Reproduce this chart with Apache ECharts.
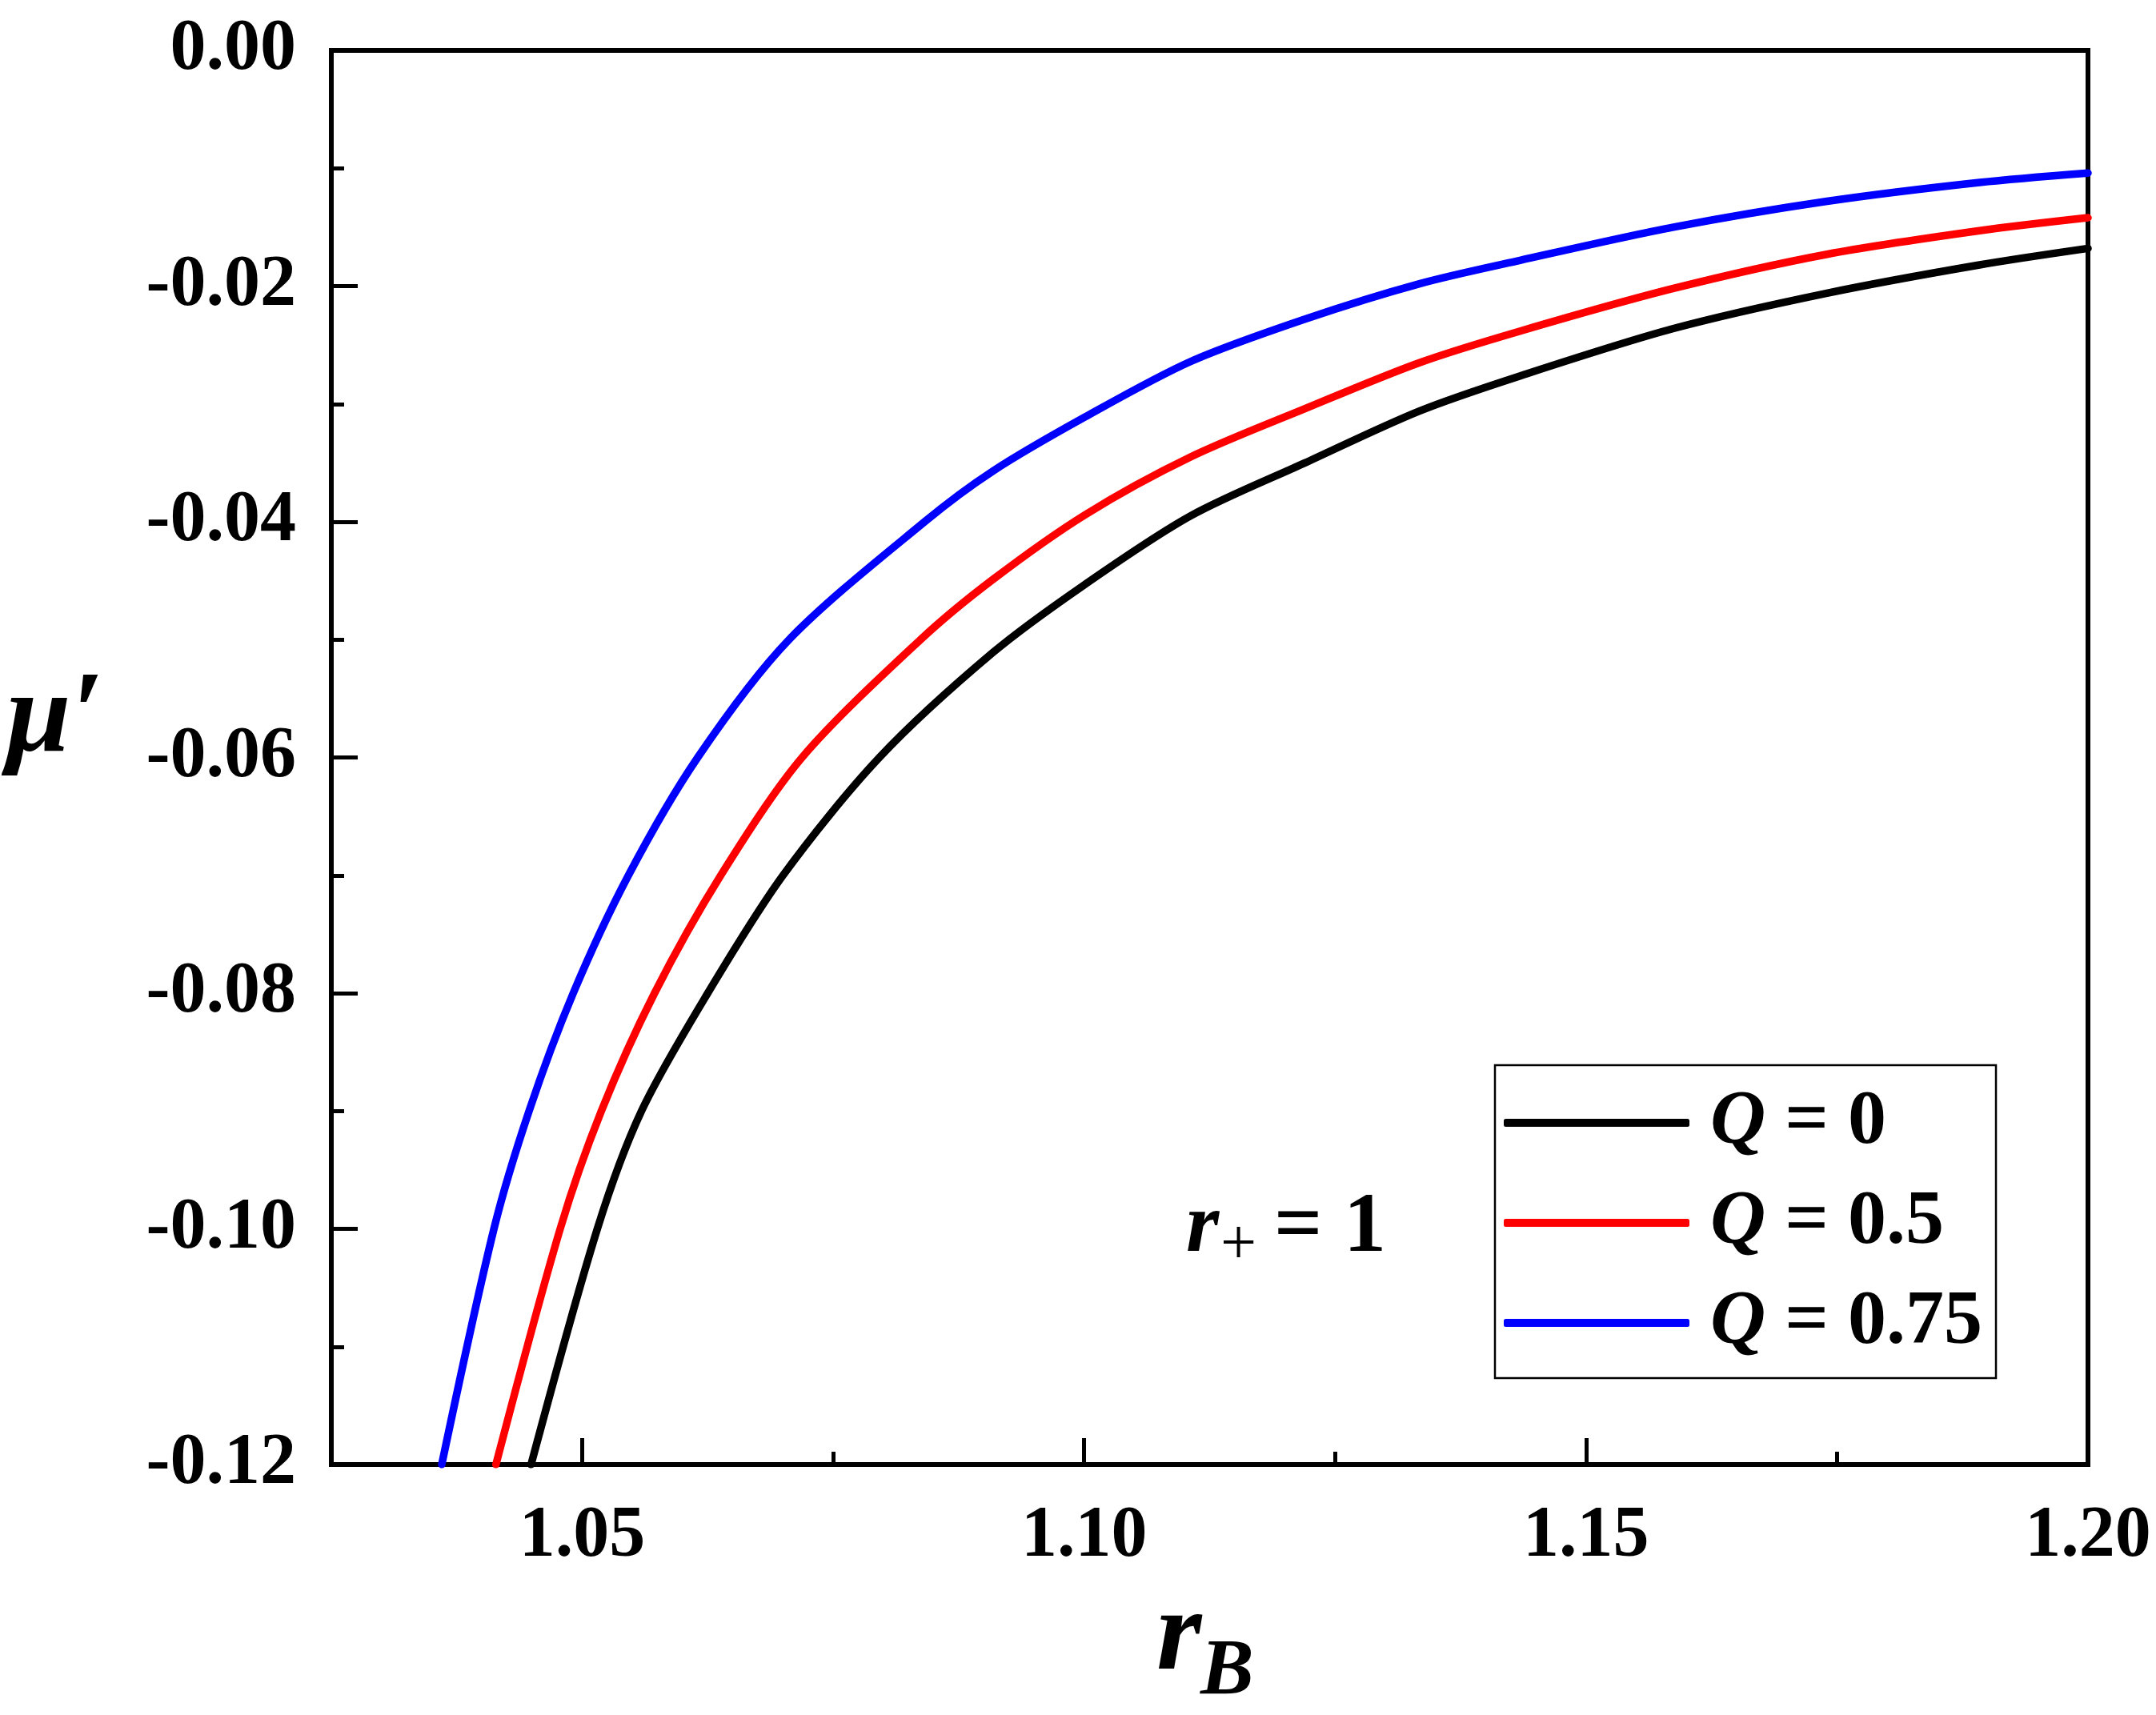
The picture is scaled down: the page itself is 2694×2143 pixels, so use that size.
<!DOCTYPE html>
<html>
<head>
<meta charset="utf-8">
<script src="https://cdn.jsdelivr.net/npm/echarts@6/dist/echarts.min.js"></script>
<style>
html,body{margin:0;padding:0;background:#fff;}
#chart{width:2694px;height:2143px;}
</style>
</head>
<body>
<div id="chart"></div>
<script>
// ---- data ----
const seriesNames = ['Q = 0', 'Q = 0.5', 'Q = 0.75'];
const legendValues = ['0', '0.5', '0.75'];
const seriesColors = ['#000000', '#ff0000', '#0000ff'];

const q0 = [
  [1.0449,-0.1200],[1.0515,-0.1000],[1.0559,-0.0900],[1.0625,-0.0800],[1.0700,-0.0700],
  [1.0796,-0.0600],[1.0909,-0.0511],[1.1001,-0.0453],[1.1106,-0.0395],
  [1.1220,-0.0350],[1.1334,-0.0306],[1.1435,-0.0276],[1.1587,-0.0236],
  [1.1740,-0.0206],[1.1892,-0.0182],[1.2000,-0.0168]
];
const q05 = [
  [1.0414,-0.1200],[1.0478,-0.1000],[1.0519,-0.0900],[1.0572,-0.0800],[1.0638,-0.0700],
  [1.0719,-0.0600],[1.0837,-0.0500],[1.0909,-0.0449],[1.1001,-0.0394],[1.1106,-0.0345],
  [1.1220,-0.0304],[1.1334,-0.0265],[1.1435,-0.0238],[1.1587,-0.0202],
  [1.1740,-0.0173],[1.1892,-0.0153],[1.2000,-0.0142]
];
const q075 = [
  [1.0360,-0.1200],[1.0412,-0.1000],[1.0447,-0.0900],[1.0491,-0.0800],[1.0546,-0.0700],
  [1.0615,-0.0600],[1.0706,-0.0500],[1.0841,-0.0400],[1.0909,-0.0357],[1.1001,-0.0311],
  [1.1106,-0.0264],[1.1220,-0.0228],[1.1334,-0.0198],[1.1435,-0.0178],
  [1.1587,-0.0150],[1.1740,-0.0128],[1.1892,-0.0112],[1.2000,-0.0104]
];
const seriesData = [q0, q05, q075];

const xMin = 1.025, xMax = 1.20;
const xMajorTicks = [1.05, 1.10, 1.15, 1.20];
const xMinorTicks = [1.075, 1.125, 1.175];
const yMin = -0.12, yMax = 0, yInterval = 0.02;

// ---- chart ----
const FONT = '"Liberation Serif", "Times New Roman", serif';
const chart = echarts.init(document.getElementById('chart'), null, {renderer: 'canvas'});

const axisLineStyle = {color: '#000', width: 6};
const gridBox = {left: 414, top: 63, right: 85, bottom: 313, containLabel: false, outerBoundsMode: 'none'};

const option = {
  animation: false,
  backgroundColor: '#ffffff',
  grid: [
    Object.assign({show: true, borderColor: '#000', borderWidth: 6, backgroundColor: 'transparent'}, gridBox),
    Object.assign({show: false}, gridBox)
  ],
  xAxis: [
    {
      type: 'value', gridIndex: 0, min: xMin, max: xMax, position: 'bottom',
      axisLine: {show: true, onZero: false, lineStyle: axisLineStyle},
      axisTick: {show: true, inside: true, length: 33, lineStyle: {color: '#000', width: 5}, customValues: xMajorTicks},
      axisLabel: {
        show: true, margin: 46, customValues: xMajorTicks,
        color: '#000', fontFamily: FONT, fontWeight: 'bold', fontSize: 90,
        formatter: v => Number(v).toFixed(2)
      },
      splitLine: {show: false}
    },
    {
      type: 'value', gridIndex: 1, min: xMin, max: xMax, position: 'bottom',
      axisLine: {show: false, onZero: false},
      axisTick: {show: true, inside: true, length: 16, lineStyle: {color: '#000', width: 5}, customValues: xMinorTicks},
      axisLabel: {show: false},
      splitLine: {show: false}
    }
  ],
  yAxis: [
    {
      type: 'value', gridIndex: 0, min: yMin, max: yMax, interval: yInterval,
      axisLine: {show: true, onZero: false, lineStyle: axisLineStyle},
      axisTick: {show: true, inside: true, length: 33, lineStyle: {color: '#000', width: 5}},
      minorTick: {show: true, splitNumber: 2, length: 16, lineStyle: {color: '#000', width: 5}},
      axisLabel: {
        show: true, margin: 44,
        color: '#000', fontFamily: FONT, fontWeight: 'bold', fontSize: 90,
        formatter: v => Number(v).toFixed(2)
      },
      splitLine: {show: false},
      minorSplitLine: {show: false}
    },
    {
      type: 'value', gridIndex: 1, min: yMin, max: yMax, interval: yInterval,
      axisLine: {show: false}, axisTick: {show: false}, axisLabel: {show: false},
      splitLine: {show: false}
    }
  ],
  legend: {
    orient: 'vertical',
    left: 1868, top: 1331,
    padding: [17, 17, 14, 11],
    itemGap: 15,
    itemWidth: 232, itemHeight: 10,
    icon: 'roundRect',
    borderColor: '#000', borderWidth: 2.5,
    backgroundColor: '#fff',
    data: seriesNames,
    formatter: function (name) {
      const i = seriesNames.indexOf(name);
      return '{q|Q}{t| = ' + legendValues[i] + '}';
    },
    textStyle: {
      color: '#000', fontFamily: FONT, fontSize: 96, lineHeight: 110,
      rich: {
        q: {fontFamily: FONT, fontStyle: 'italic', fontWeight: 'bold', fontSize: 96, lineHeight: 110, color: '#000', padding: [0, 0, 0, 21]},
        t: {fontFamily: FONT, fontWeight: 'bold', fontSize: 96, lineHeight: 110, color: '#000'}
      }
    }
  },
  series: seriesData.map((d, i) => ({
    name: seriesNames[i],
    type: 'line',
    xAxisIndex: 0, yAxisIndex: 0,
    data: d,
    symbol: 'none',
    smooth: 0.3,
    color: seriesColors[i],
    itemStyle: {color: seriesColors[i]},
    lineStyle: {color: seriesColors[i], width: 9.5, cap: 'round'},
    z: 2 + i
  })),
  graphic: [
    // y-axis name  μ′
    {type: 'text', left: 8, top: 828, style: {text: 'μ′', font: 'italic bold 145px ' + FONT, fill: '#000'}},
    // x-axis name  r_B
    {type: 'text', left: 1445, top: 1975, style: {text: 'r', font: 'italic bold 145px ' + FONT, fill: '#000'}},
    {type: 'text', left: 1500, top: 2040, style: {text: 'B', font: 'italic bold 100px ' + FONT, fill: '#000'}},
    // annotation r+ = 1
    {type: 'text', left: 1482, top: 1483, style: {text: 'r', font: 'italic bold 106px ' + FONT, fill: '#000'}},
    {type: 'text', left: 1525, top: 1518, style: {text: '+', font: '80px ' + FONT, fill: '#000'}},
    {type: 'text', left: 1592, top: 1483, style: {text: '= 1', font: 'bold 106px ' + FONT, fill: '#000'}}
  ]
};
chart.setOption(option);
</script>
</body>
</html>
